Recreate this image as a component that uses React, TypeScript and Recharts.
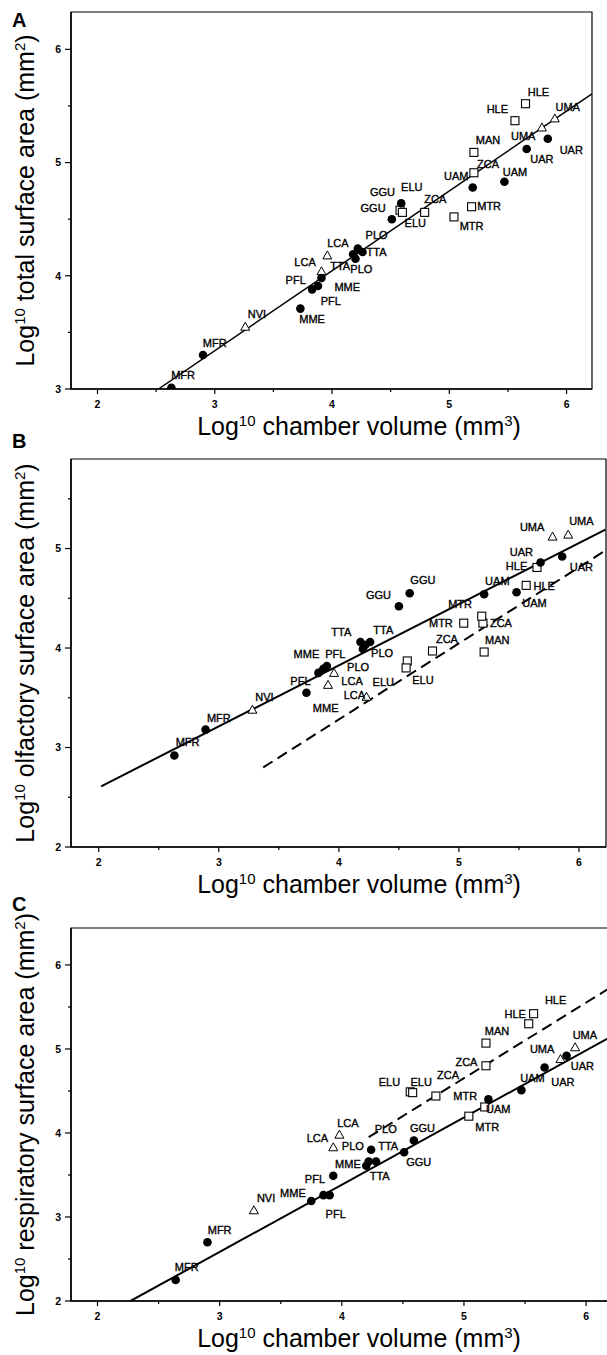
import React from "react"
import { ScatterChart, Scatter, XAxis, YAxis, ReferenceLine, ReferenceArea, Label } from "recharts"

const FONT = "'Liberation Sans', Arial, Helvetica, sans-serif"

type Pt = { x: number; y: number }
type Tag = { t: string; x: number; y: number }

// ---- panel A: total surface area ----
const circlesA: Pt[] = [
  { x: 2.63, y: 3.01 }, { x: 2.9, y: 3.3 }, { x: 3.73, y: 3.71 }, { x: 3.83, y: 3.88 },
  { x: 3.88, y: 3.91 }, { x: 3.91, y: 3.98 }, { x: 4.18, y: 4.19 }, { x: 4.22, y: 4.24 },
  { x: 4.26, y: 4.21 }, { x: 4.2, y: 4.15 }, { x: 4.51, y: 4.5 }, { x: 4.59, y: 4.64 },
  { x: 5.2, y: 4.78 }, { x: 5.47, y: 4.83 }, { x: 5.66, y: 5.12 }, { x: 5.84, y: 5.21 },
]
const squaresA: Pt[] = [
  { x: 4.58, y: 4.58 }, { x: 4.6, y: 4.56 }, { x: 4.79, y: 4.56 }, { x: 5.21, y: 4.91 },
  { x: 5.19, y: 4.61 }, { x: 5.04, y: 4.52 }, { x: 5.21, y: 5.09 }, { x: 5.56, y: 5.37 },
  { x: 5.65, y: 5.52 },
]
const trianglesA: Pt[] = [
  { x: 3.26, y: 3.55 }, { x: 3.91, y: 4.04 }, { x: 3.96, y: 4.18 }, { x: 5.79, y: 5.31 }, { x: 5.9, y: 5.39 },
]
const tagsA: Tag[] = [
  { t: "HLE", x: 5.76, y: 5.62 }, { t: "HLE", x: 5.41, y: 5.47 }, { t: "UMA", x: 6.01, y: 5.49 },
  { t: "UMA", x: 5.63, y: 5.23 }, { t: "UAR", x: 6.04, y: 5.11 }, { t: "UAR", x: 5.79, y: 5.03 },
  { t: "MAN", x: 5.33, y: 5.2 }, { t: "ZCA", x: 5.33, y: 4.99 }, { t: "UAM", x: 5.06, y: 4.88 },
  { t: "UAM", x: 5.56, y: 4.92 }, { t: "GGU", x: 4.43, y: 4.74 }, { t: "ELU", x: 4.68, y: 4.78 },
  { t: "GGU", x: 4.35, y: 4.6 }, { t: "ZCA", x: 4.88, y: 4.68 }, { t: "MTR", x: 5.34, y: 4.62 },
  { t: "MTR", x: 5.19, y: 4.44 }, { t: "ELU", x: 4.71, y: 4.47 }, { t: "LCA", x: 4.05, y: 4.29 },
  { t: "PLO", x: 4.38, y: 4.36 }, { t: "TTA", x: 4.38, y: 4.21 }, { t: "PLO", x: 4.25, y: 4.06 },
  { t: "LCA", x: 3.77, y: 4.12 }, { t: "TTA", x: 4.07, y: 4.09 }, { t: "PFL", x: 3.69, y: 3.96 },
  { t: "MME", x: 4.13, y: 3.9 }, { t: "PFL", x: 3.99, y: 3.78 }, { t: "MME", x: 3.83, y: 3.62 },
  { t: "NVI", x: 3.36, y: 3.66 }, { t: "MFR", x: 3.0, y: 3.41 }, { t: "MFR", x: 2.73, y: 3.12 },
]
const fitA: Pt[] = [{ x: 2.52, y: 3.0 }, { x: 6.22, y: 5.61 }]

// ---- panel B: olfactory surface area ----
const circlesB: Pt[] = [
  { x: 2.63, y: 2.92 }, { x: 2.89, y: 3.18 }, { x: 3.73, y: 3.55 }, { x: 3.83, y: 3.75 },
  { x: 3.87, y: 3.79 }, { x: 3.9, y: 3.82 }, { x: 4.18, y: 4.06 }, { x: 4.26, y: 4.06 },
  { x: 4.22, y: 4.03 }, { x: 4.2, y: 3.99 }, { x: 4.5, y: 4.42 }, { x: 4.59, y: 4.55 },
  { x: 5.21, y: 4.54 }, { x: 5.48, y: 4.56 }, { x: 5.68, y: 4.86 }, { x: 5.86, y: 4.92 },
]
const squaresB: Pt[] = [
  { x: 4.57, y: 3.87 }, { x: 4.56, y: 3.8 }, { x: 4.78, y: 3.97 }, { x: 5.2, y: 4.25 },
  { x: 5.04, y: 4.25 }, { x: 5.19, y: 4.32 }, { x: 5.21, y: 3.96 }, { x: 5.56, y: 4.63 },
  { x: 5.65, y: 4.81 },
]
const trianglesB: Pt[] = [
  { x: 3.28, y: 3.38 }, { x: 3.91, y: 3.63 }, { x: 3.96, y: 3.75 }, { x: 4.23, y: 3.51 },
  { x: 5.78, y: 5.12 }, { x: 5.91, y: 5.14 },
]
const tagsB: Tag[] = [
  { t: "UMA", x: 6.02, y: 5.28 }, { t: "UMA", x: 5.61, y: 5.22 }, { t: "UAR", x: 5.52, y: 4.96 },
  { t: "UAR", x: 6.02, y: 4.81 }, { t: "HLE", x: 5.48, y: 4.82 }, { t: "HLE", x: 5.71, y: 4.62 },
  { t: "UAM", x: 5.32, y: 4.67 }, { t: "UAM", x: 5.63, y: 4.45 }, { t: "GGU", x: 4.7, y: 4.68 },
  { t: "GGU", x: 4.33, y: 4.53 }, { t: "MTR", x: 5.01, y: 4.44 }, { t: "MTR", x: 4.85, y: 4.25 },
  { t: "ZCA", x: 5.35, y: 4.25 }, { t: "ZCA", x: 4.9, y: 4.09 }, { t: "MAN", x: 5.32, y: 4.08 },
  { t: "TTA", x: 4.02, y: 4.16 }, { t: "TTA", x: 4.37, y: 4.18 }, { t: "MME", x: 3.73, y: 3.94 },
  { t: "PFL", x: 3.97, y: 3.94 }, { t: "PLO", x: 4.36, y: 3.95 }, { t: "PLO", x: 4.16, y: 3.81 },
  { t: "PFL", x: 3.68, y: 3.67 }, { t: "LCA", x: 4.11, y: 3.67 }, { t: "ELU", x: 4.37, y: 3.66 },
  { t: "ELU", x: 4.7, y: 3.68 }, { t: "LCA", x: 4.13, y: 3.53 }, { t: "MME", x: 3.89, y: 3.4 },
  { t: "NVI", x: 3.38, y: 3.51 }, { t: "MFR", x: 3.0, y: 3.3 }, { t: "MFR", x: 2.74, y: 3.06 },
]
const fitB: Pt[] = [{ x: 2.02, y: 2.61 }, { x: 6.22, y: 5.19 }]
const fitB2: Pt[] = [{ x: 3.37, y: 2.8 }, { x: 6.22, y: 4.98 }]

// ---- panel C: respiratory surface area ----
const circlesC: Pt[] = [
  { x: 2.64, y: 2.25 }, { x: 2.9, y: 2.7 }, { x: 3.75, y: 3.19 }, { x: 3.85, y: 3.26 },
  { x: 3.9, y: 3.26 }, { x: 3.93, y: 3.49 }, { x: 4.2, y: 3.61 }, { x: 4.22, y: 3.66 },
  { x: 4.28, y: 3.66 }, { x: 4.24, y: 3.8 }, { x: 4.51, y: 3.77 }, { x: 4.59, y: 3.91 },
  { x: 5.2, y: 4.4 }, { x: 5.47, y: 4.51 }, { x: 5.66, y: 4.78 }, { x: 5.84, y: 4.92 },
]
const squaresC: Pt[] = [
  { x: 4.56, y: 4.49 }, { x: 4.58, y: 4.48 }, { x: 4.77, y: 4.44 }, { x: 5.18, y: 4.8 },
  { x: 5.18, y: 5.07 }, { x: 5.53, y: 5.3 }, { x: 5.57, y: 5.42 }, { x: 5.04, y: 4.2 },
  { x: 5.17, y: 4.31 },
]
const trianglesC: Pt[] = [
  { x: 3.28, y: 3.08 }, { x: 3.93, y: 3.83 }, { x: 3.98, y: 3.98 }, { x: 5.79, y: 4.88 }, { x: 5.91, y: 5.02 },
]
const tagsC: Tag[] = [
  { t: "HLE", x: 5.75, y: 5.58 }, { t: "HLE", x: 5.42, y: 5.42 }, { t: "MAN", x: 5.27, y: 5.21 },
  { t: "ZCA", x: 5.02, y: 4.84 }, { t: "UMA", x: 5.99, y: 5.17 }, { t: "UMA", x: 5.64, y: 5.0 },
  { t: "UAR", x: 5.97, y: 4.8 }, { t: "UAR", x: 5.81, y: 4.61 }, { t: "UAM", x: 5.56, y: 4.65 },
  { t: "ELU", x: 4.39, y: 4.61 }, { t: "ELU", x: 4.65, y: 4.61 }, { t: "ZCA", x: 4.87, y: 4.69 },
  { t: "MTR", x: 5.01, y: 4.44 }, { t: "UAM", x: 5.28, y: 4.29 }, { t: "MTR", x: 5.19, y: 4.07 },
  { t: "LCA", x: 4.05, y: 4.12 }, { t: "LCA", x: 3.8, y: 3.94 }, { t: "PLO", x: 4.36, y: 4.05 },
  { t: "PLO", x: 4.09, y: 3.85 }, { t: "TTA", x: 4.38, y: 3.84 }, { t: "GGU", x: 4.66, y: 4.06 },
  { t: "GGU", x: 4.63, y: 3.65 }, { t: "MME", x: 4.05, y: 3.63 }, { t: "TTA", x: 4.31, y: 3.49 },
  { t: "PFL", x: 3.78, y: 3.45 }, { t: "MME", x: 3.6, y: 3.29 }, { t: "PFL", x: 3.95, y: 3.03 },
  { t: "NVI", x: 3.38, y: 3.23 }, { t: "MFR", x: 3.0, y: 2.85 }, { t: "MFR", x: 2.73, y: 2.41 },
]
const fitC: Pt[] = [{ x: 2.27, y: 2.0 }, { x: 6.22, y: 5.16 }]
const fitC2: Pt[] = [{ x: 4.22, y: 3.95 }, { x: 6.22, y: 5.75 }]

const xTicks = [2, 2.5, 3, 3.5, 4, 4.5, 5, 5.5, 6]

// marker shapes
const Dot = (p: any) => <circle cx={p.cx} cy={p.cy} r={4.3} fill="#000" />
const Box = (p: any) => (
  <rect x={p.cx - 4} y={p.cy - 4} width={8} height={8} fill="#fff" stroke="#000" strokeWidth={1.1} />
)
const Tri = (p: any) => (
  <polygon
    points={`${p.cx},${p.cy - 4.5} ${p.cx + 4.5},${p.cy + 3.5} ${p.cx - 4.5},${p.cy + 3.5}`}
    fill="#fff"
    stroke="#000"
    strokeWidth={1}
  />
)
const TagText = (p: any) => (
  <text
    x={p.cx}
    y={p.cy}
    dy="0.36em"
    textAnchor="middle"
    fontSize={11}
    fontFamily={FONT}
    fill="#000"
    stroke="#000"
    strokeWidth={0.35}
  >
    {p.payload.t}
  </text>
)

const XTick = (props: any) => {
  const { x, y, payload } = props
  const major = Number.isInteger(payload.value)
  return (
    <g>
      <line x1={x} x2={x} y1={y} y2={y + (major ? 5 : 3)} stroke="#000" strokeWidth={1.2} />
      {major && (
        <text x={x} y={y + 19} textAnchor="middle" fontSize={10.5} fontWeight="bold" fontFamily={FONT}>
          {payload.value}
        </text>
      )}
    </g>
  )
}

const YTick = (props: any) => {
  const { x, y, payload } = props
  const major = Number.isInteger(payload.value)
  return (
    <g>
      <line x1={x} x2={x - (major ? 6 : 3)} y1={y} y2={y} stroke="#000" strokeWidth={1.2} />
      {major && (
        <text x={x - 10} y={y} dy="0.36em" textAnchor="end" fontSize={10.5} fontWeight="bold" fontFamily={FONT}>
          {payload.value}
        </text>
      )}
    </g>
  )
}

const xTitle = (props: any) => {
  const vb = props.viewBox
  return (
    <text x={359} y={vb.y + 46} textAnchor="middle" fontSize={25} fontFamily={FONT} fill="#000">
      Log<tspan dy={-9} fontSize={15}>10</tspan>
      <tspan dy={9}> chamber volume (mm</tspan>
      <tspan dy={-9} fontSize={15}>3</tspan>
      <tspan dy={9}>)</tspan>
    </text>
  )
}

const yTitle = (what: string, letter: string, letterY: number) => (props: any) => {
  const vb = props.viewBox
  const cy = vb.y + vb.height / 2
  return (
    <g>
      <text x={12} y={letterY} fontSize={20} fontWeight="bold" fontFamily={FONT} fill="#000">
        {letter}
      </text>
      <text transform={`translate(34, ${cy}) rotate(-90)`} textAnchor="middle" fontSize={25} fontFamily={FONT} fill="#000">
        Log<tspan dy={-9} fontSize={15}>10</tspan>
        <tspan dy={9}> {what} surface area (mm</tspan>
        <tspan dy={-9} fontSize={15}>2</tspan>
        <tspan dy={9}>)</tspan>
      </text>
    </g>
  )
}

interface PanelProps {
  top: number
  width: number
  height: number
  margin: { top: number; right: number; bottom: number; left: number }
  xAxisHeight: number
  xDomain: [number, number]
  yDomain: [number, number]
  yTicks: number[]
  what: string
  letter: string
  letterY: number
  circles: Pt[]
  squares: Pt[]
  triangles: Pt[]
  tags: Tag[]
  solid: Pt[]
  dashed?: Pt[]
  lineWidth: number
}

const Panel: React.FC<PanelProps> = (p) => (
  <div style={{ position: "absolute", left: 0, top: p.top }}>
    <ScatterChart width={p.width} height={p.height} margin={p.margin}>
      <XAxis
        type="number"
        dataKey="x"
        domain={p.xDomain}
        ticks={xTicks}
        interval={0}
        tick={<XTick />}
        tickLine={false}
        tickSize={0}
        tickMargin={0}
        height={p.xAxisHeight}
        axisLine={{ stroke: "#000", strokeWidth: 1.5 }}
        allowDataOverflow
      >
        <Label content={xTitle} />
      </XAxis>
      <YAxis
        type="number"
        dataKey="y"
        domain={p.yDomain}
        ticks={p.yTicks}
        interval={0}
        tick={<YTick />}
        tickLine={false}
        tickSize={0}
        tickMargin={0}
        width={71}
        axisLine={{ stroke: "#000", strokeWidth: 1.5 }}
        allowDataOverflow
      >
        <Label content={yTitle(p.what, p.letter, p.letterY)} />
      </YAxis>
      <ReferenceArea
        x1={p.xDomain[0]}
        x2={p.xDomain[1]}
        y1={p.yDomain[0]}
        y2={p.yDomain[1]}
        fill="none"
        stroke="#000"
        strokeWidth={1.2}
        ifOverflow="visible"
      />
      <ReferenceLine segment={p.solid} stroke="#000" strokeWidth={p.lineWidth} ifOverflow="hidden" />
      {p.dashed && (
        <ReferenceLine segment={p.dashed} stroke="#000" strokeWidth={2} strokeDasharray="11 6" ifOverflow="hidden" />
      )}
      <Scatter data={p.squares} shape={Box} isAnimationActive={false} />
      <Scatter data={p.triangles} shape={Tri} isAnimationActive={false} />
      <Scatter data={p.circles} shape={Dot} isAnimationActive={false} />
      <Scatter data={p.tags} shape={TagText} isAnimationActive={false} />
    </ScatterChart>
  </div>
)

export default function App() {
  return (
    <div
      style={{
        position: "absolute",
        left: 0,
        top: 0,
        width: 607,
        height: 1355,
        overflow: "hidden",
        background: "#fff",
        fontFamily: FONT,
      }}
    >
      <Panel
        top={0}
        width={607}
        height={450}
        margin={{ top: 12, right: 15, bottom: 0, left: 0 }}
        xAxisHeight={61}
        xDomain={[1.774, 6.217]}
        yDomain={[3, 6.33]}
        yTicks={[3, 3.5, 4, 4.5, 5, 5.5, 6]}
        what="total"
        letter="A"
        letterY={27}
        circles={circlesA}
        squares={squaresA}
        triangles={trianglesA}
        tags={tagsA}
        solid={fitA}
        lineWidth={1.5}
      />
      <Panel
        top={422}
        width={607}
        height={483}
        margin={{ top: 37, right: 1, bottom: 0, left: 0 }}
        xAxisHeight={58}
        xDomain={[1.769, 6.225]}
        yDomain={[2, 5.9]}
        yTicks={[2, 2.5, 3, 3.5, 4, 4.5, 5, 5.5]}
        what="olfactory"
        letter="B"
        letterY={26}
        circles={circlesB}
        squares={squaresB}
        triangles={trianglesB}
        tags={tagsB}
        solid={fitB}
        dashed={fitB2}
        lineWidth={2}
      />
      <Panel
        top={882}
        width={614}
        height={473}
        margin={{ top: 46, right: 1, bottom: 0, left: 0 }}
        xAxisHeight={54}
        xDomain={[1.783, 6.22]}
        yDomain={[2, 6.44]}
        yTicks={[2, 2.5, 3, 3.5, 4, 4.5, 5, 5.5, 6]}
        what="respiratory"
        letter="C"
        letterY={29}
        circles={circlesC}
        squares={squaresC}
        triangles={trianglesC}
        tags={tagsC}
        solid={fitC}
        dashed={fitC2}
        lineWidth={2}
      />
    </div>
  )
}
